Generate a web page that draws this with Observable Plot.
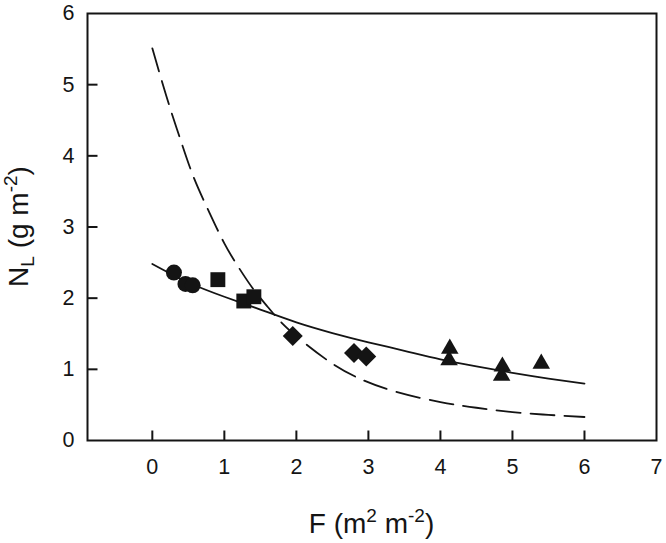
<!DOCTYPE html>
<html>
<head>
<meta charset="utf-8">
<script src="https://cdn.jsdelivr.net/npm/d3@7"></script>
<script src="https://cdn.jsdelivr.net/npm/@observablehq/plot@0.6"></script>
<style>
  html, body { margin: 0; padding: 0; background: #fff; }
  svg { display: block; }
</style>
</head>
<body>
<div id="chart"></div>
<script>
// Observed data (F in m2 m-2, NL in g m-2)
const circleF = [0.30, 0.46, 0.56];
const circleN = [2.36, 2.20, 2.18];
const squareF = [0.91, 1.27, 1.41];
const squareN = [2.26, 1.96, 2.02];
const diamondF = [1.95, 2.80, 2.97];
const diamondN = [1.47, 1.23, 1.18];
const triangleF = [4.13, 4.12, 4.86, 4.85, 5.40];
const triangleN = [1.29, 1.13, 1.04, 0.91, 1.08];

// Fitted curves
const solidF = [0, 0.5, 1, 1.5, 2, 2.5, 3, 3.5, 4, 4.5, 5, 5.5, 6];
const solidN = [2.48, 2.22, 2.02, 1.84, 1.66, 1.51, 1.38, 1.26, 1.14, 1.04, 0.95, 0.87, 0.80];
const dashF = [0, 0.1, 0.25, 0.4, 0.57, 0.78, 1.0, 1.2, 1.4, 1.6, 1.8, 2.1, 2.5, 2.9, 3.4, 4.0, 4.5, 5.0, 5.5, 6.0];
const dashN = [5.51, 5.16, 4.66, 4.20, 3.71, 3.23, 2.77, 2.43, 2.13, 1.88, 1.65, 1.38, 1.08, 0.86, 0.68, 0.54, 0.46, 0.40, 0.36, 0.33];

// Axis ticks
const xTicks = [0, 1, 2, 3, 4, 5, 6, 7];
const xTickMarks = [0, 1, 2, 3, 4, 5, 6];
const yTicks = [0, 1, 2, 3, 4, 5, 6];
const yTickMarks = [1, 2, 3, 4, 5];

const zip = (xs, ys) => xs.map((x, i) => ({x, y: ys[i]}));

const W = 666, H = 543;
const mL = 87, mR = 10, mT = 13, mB = 103;
const innerW = W - mL - mR, innerH = H - mT - mB;
const xDomain = [-0.9, 7], yDomain = [0, 6];
const tickPx = 10;
const tickLenY = tickPx * (yDomain[1] - yDomain[0]) / innerH;
const tickLenX = tickPx * (xDomain[1] - xDomain[0]) / innerW;
const ink = "#141414";

const svg = Plot.plot({
  width: W,
  height: H,
  marginLeft: mL,
  marginRight: mR,
  marginTop: mT,
  marginBottom: mB,
  style: {fontFamily: "'Liberation Sans', Arial, sans-serif", fontSize: "21.5px", color: ink, background: "#fff"},
  x: {domain: xDomain, ticks: xTicks, tickSize: 0, tickPadding: 18, label: null, tickFormat: d => String(d)},
  y: {domain: yDomain, ticks: yTicks, tickSize: 0, tickPadding: 13, label: null, tickFormat: d => String(d)},
  marks: [
    Plot.line(zip(dashF, dashN), {x: "x", y: "y", stroke: ink, strokeWidth: 1.8, strokeDasharray: "24,10", curve: "natural"}),
    Plot.line(zip(solidF, solidN), {x: "x", y: "y", stroke: ink, strokeWidth: 1.8, curve: "natural"}),
    Plot.dot(zip(circleF, circleN), {x: "x", y: "y", symbol: "circle", r: 8, fill: ink, stroke: "none"}),
    Plot.dot(zip(squareF, squareN), {x: "x", y: "y", symbol: "square", r: 8.4, fill: ink, stroke: "none"}),
    Plot.dot(zip(diamondF, diamondN), {x: "x", y: "y", symbol: "diamond2", r: 9, fill: ink, stroke: "none"}),
    Plot.dot(zip(triangleF, triangleN), {x: "x", y: "y", symbol: "triangle", r: 6.5, fill: ink, stroke: "none"}),
    Plot.link(xTickMarks, {x1: d => d, x2: d => d, y1: yDomain[0], y2: yDomain[0] + tickLenY, stroke: ink, strokeWidth: 2}),
    Plot.link(yTickMarks, {y1: d => d, y2: d => d, x1: xDomain[0], x2: xDomain[0] + tickLenX, stroke: ink, strokeWidth: 2}),
    Plot.frame({stroke: ink, strokeWidth: 2})
  ]
});

document.getElementById("chart").appendChild(svg);

const s = d3.select(svg);
const font = "'Liberation Sans', Arial, sans-serif";

// X axis title: F (m^2 m^-2)
const xt = s.append("text")
  .attr("x", mL + innerW / 2)
  .attr("y", 533)
  .attr("text-anchor", "middle")
  .attr("font-family", font)
  .attr("font-size", 28)
  .attr("fill", ink);
xt.append("tspan").text("F (m");
xt.append("tspan").attr("font-size", 19).attr("dy", -11).text("2");
xt.append("tspan").attr("dy", 11).text(" m");
xt.append("tspan").attr("font-size", 19).attr("dy", -11).text("-2");
xt.append("tspan").attr("dy", 11).text(")");

// Y axis title: N_L (g m^-2)
const yt = s.append("text")
  .attr("transform", `translate(28,${mT + innerH / 2}) rotate(-90)`)
  .attr("text-anchor", "middle")
  .attr("font-family", font)
  .attr("font-size", 28)
  .attr("fill", ink);
yt.append("tspan").text("N");
yt.append("tspan").attr("font-size", 19).attr("dy", 6).text("L");
yt.append("tspan").attr("dy", -6).text(" (g m");
yt.append("tspan").attr("font-size", 19).attr("dy", -11).text("-2");
yt.append("tspan").attr("dy", 11).text(")");
</script>
</body>
</html>
